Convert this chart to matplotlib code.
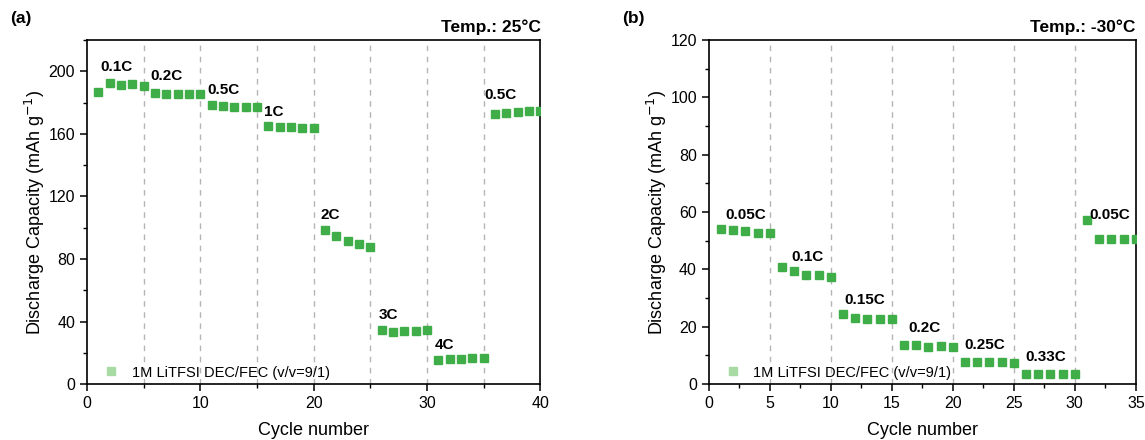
import matplotlib
matplotlib.use("Agg")
import matplotlib.pyplot as plt
from matplotlib.ticker import MultipleLocator
from matplotlib.lines import Line2D

plt.rcParams['font.family'] = ['Liberation Sans', 'DejaVu Sans']

# Panel (a): 25 °C
cycles_a = list(range(1, 41))
cap_a = [187.0, 192.4, 191.4, 191.6, 190.5,
         186.2, 185.4, 185.4, 185.8, 185.4,
         178.4, 178.0, 177.3, 177.5, 177.5,
         164.9, 164.5, 164.3, 163.6, 163.6,
         98.6, 94.7, 91.7, 89.6, 87.5,
         34.3, 33.5, 33.9, 33.9, 34.6,
         15.6, 16.0, 16.0, 16.4, 16.4,
         172.8, 173.4, 174.0, 174.7, 174.7]
rates_a = ["0.1C", "0.2C", "0.5C", "1C", "2C", "3C", "4C", "0.5C"]
rate_lab_x_a = [2.6, 7.0, 12.0, 16.5, 21.5, 26.6, 31.5, 36.5]
rate_lab_y_a = [203, 197, 188, 174, 108, 44, 25, 185]

# Panel (b): -30 °C
cycles_b = list(range(1, 36))
cap_b = [54.1, 53.6, 53.4, 52.6, 52.6,
         40.9, 39.5, 37.9, 37.9, 37.4,
         24.4, 23.2, 22.7, 22.7, 22.7,
         13.8, 13.5, 13.1, 13.3, 12.8,
         7.7, 7.7, 7.7, 7.7, 7.5,
         3.6, 3.6, 3.6, 3.6, 3.6,
         57.1, 50.5, 50.5, 50.5, 50.5]
rates_b = ["0.05C", "0.1C", "0.15C", "0.2C", "0.25C", "0.33C", "0.05C"]
rate_lab_x_b = [3.0, 8.1, 12.8, 17.7, 22.6, 27.6, 32.9]
rate_lab_y_b = [59, 44.5, 29.4, 19.6, 13.6, 9.4, 59]

legend_label = "1M LiTFSI DEC/FEC (v/v=9/1)"
green = '#3fae49'

fig = plt.figure(figsize=(11.45, 4.4), dpi=100)
ax1 = fig.add_axes([0.076, 0.127, 0.396, 0.782])
ax2 = fig.add_axes([0.619, 0.127, 0.373, 0.782])


def style(ax, xmax, xmaj, xmin, ymax, ymaj, ymin, vlines):
    ax.set_xlim(0, xmax)
    ax.set_ylim(0, ymax)
    ax.xaxis.set_major_locator(MultipleLocator(xmaj))
    ax.xaxis.set_minor_locator(MultipleLocator(xmin))
    ax.yaxis.set_major_locator(MultipleLocator(ymaj))
    ax.yaxis.set_minor_locator(MultipleLocator(ymin))
    ax.tick_params(which='major', direction='out', length=5, width=1.1, labelsize=11.5)
    ax.tick_params(which='minor', direction='out', length=3, width=1.0)
    for s in ax.spines.values():
        s.set_linewidth(1.2)
    for v in vlines:
        ax.axvline(v, color='#b5b5b5', ls=(0, (4, 4)), lw=1.0, zorder=0)
    ax.set_xlabel("Cycle number", fontsize=13, labelpad=8)
    ax.set_ylabel("Discharge Capacity (mAh g$^{-1}$)", fontsize=13, labelpad=1)


style(ax1, 40, 10, 5, 220, 40, 20, [5, 10, 15, 20, 25, 30, 35])
style(ax2, 35, 5, 2.5, 120, 20, 10, [5, 10, 15, 20, 25, 30])

ax1.plot(cycles_a, cap_a, 's', color=green, ms=6, mec=green, zorder=3)
ax2.plot(cycles_b, cap_b, 's', color=green, ms=6, mec=green, zorder=3)

for t, x, y in zip(rates_a, rate_lab_x_a, rate_lab_y_a):
    ax1.text(x, y, t, ha='center', va='center', fontsize=11, fontweight='bold')
for t, x, y in zip(rates_b, rate_lab_x_b, rate_lab_y_b):
    ax2.text(x, y, t, ha='center', va='center', fontsize=11, fontweight='bold')

handle = Line2D([], [], marker='s', ls='none', color='#a8dba4', mec='#a8dba4', ms=6)
for ax in (ax1, ax2):
    ax.legend([handle], [legend_label], loc='lower left', frameon=False,
              fontsize=10.5, handletextpad=0.8, handlelength=1.2,
              bbox_to_anchor=(0.005, -0.025))

fig.text(0.472, 0.938, "Temp.: 25°C", ha='right', va='center', fontsize=12.5, fontweight='bold')
fig.text(0.992, 0.938, "Temp.: -30°C", ha='right', va='center', fontsize=12.5, fontweight='bold')
fig.text(0.009, 0.958, "(a)", ha='left', va='center', fontsize=12.5, fontweight='bold')
fig.text(0.543, 0.958, "(b)", ha='left', va='center', fontsize=12.5, fontweight='bold')

fig.savefig("out.png", dpi=100)
